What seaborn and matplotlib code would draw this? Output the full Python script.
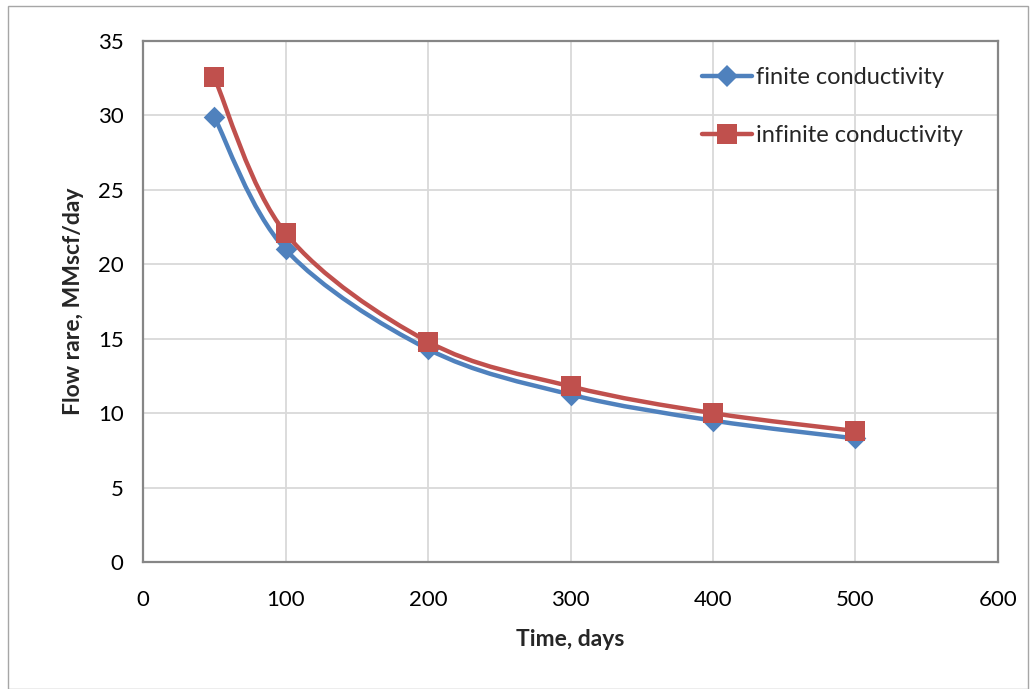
import numpy as np
import pandas as pd
import matplotlib
matplotlib.use("Agg")
import matplotlib.pyplot as plt
import seaborn as sns
from matplotlib.path import Path
from matplotlib.patches import PathPatch, Rectangle
from matplotlib.lines import Line2D

time_days = [50, 100, 200, 300, 400, 500]
finite_conductivity = [29.9, 21.0, 14.3, 11.25, 9.5, 8.3]
infinite_conductivity = [32.55, 22.1, 14.8, 11.8, 10.0, 8.8]
series_names = ["finite conductivity", "infinite conductivity"]
x_ticks = [0, 100, 200, 300, 400, 500, 600]
y_ticks = [0, 5, 10, 15, 20, 25, 30, 35]

df = pd.DataFrame({
    "time": time_days * 2,
    "rate": finite_conductivity + infinite_conductivity,
    "series": [series_names[0]] * len(time_days) + [series_names[1]] * len(time_days),
})

sns.set_theme(style="white")
plt.rcParams["font.family"] = ["Lato", "DejaVu Sans"]

BLUE = "#4F81BD"
RED = "#C0504D"

fig = plt.figure(figsize=(10.30, 6.89), dpi=100)
ax = fig.add_axes([143 / 1030, 1 - 562 / 689, (998 - 143) / 1030, (562 - 41) / 689])

def smooth_path(xs, ys):
    pts = np.column_stack([xs, ys]).astype(float)
    n = len(pts)
    verts = [pts[0]]
    codes = [Path.MOVETO]
    for i in range(n - 1):
        p0 = pts[i - 1] if i > 0 else pts[i]
        p1 = pts[i]
        p2 = pts[i + 1]
        p3 = pts[i + 2] if i + 2 < n else pts[i + 1]
        c1 = p1 + (p2 - p0) / 6.0
        c2 = p2 - (p3 - p1) / 6.0
        verts += [c1, c2, p2]
        codes += [Path.CURVE4] * 3
    return Path(verts, codes)

styles = {
    series_names[0]: dict(color=BLUE, marker="D", ms=11),
    series_names[1]: dict(color=RED, marker="s", ms=14),
}

z = 3
for name in series_names:
    sub = df[df["series"] == name]
    st = styles[name]
    patch = PathPatch(smooth_path(sub["time"].values, sub["rate"].values),
                      facecolor="none", edgecolor=st["color"], lw=3.2,
                      capstyle="round", joinstyle="round", zorder=z)
    ax.add_patch(patch)
    sns.scatterplot(x=sub["time"], y=sub["rate"], ax=ax, marker=st["marker"],
                    s=st["ms"] ** 2, color=st["color"], edgecolor=st["color"],
                    linewidth=0, zorder=z + 0.5, legend=False)
    z += 1

ax.set_xlim(0, 600)
ax.set_ylim(0, 35)
ax.set_xticks(x_ticks)
ax.set_yticks(y_ticks)
ax.grid(True, color="#D9D9D9", lw=1.3)
ax.set_axisbelow(True)
for s in ["left", "bottom", "right", "top"]:
    ax.spines[s].set_color("#868686")
    ax.spines[s].set_linewidth(1.6)
ax.tick_params(axis="x", length=0, labelsize=16, colors="black", pad=20)
ax.tick_params(axis="y", length=0, labelsize=16, colors="black", pad=14)

ax.set_xlabel("Time, days", fontsize=16.5, fontweight="bold", labelpad=14)
ax.set_ylabel("Flow rare, MMscf/day", fontsize=16.5, fontweight="bold", labelpad=10)

handles = [Line2D([], [], color=BLUE, lw=3.2, marker="D", ms=11, markeredgewidth=0),
           Line2D([], [], color=RED, lw=3.2, marker="s", ms=14, markeredgewidth=0)]
leg = ax.legend(handles, series_names, loc="upper left",
                bbox_to_anchor=((693 - 143) / 855, 1 - (58 - 41) / 521),
                frameon=False, fontsize=17, handlelength=2.1, handletextpad=0.15,
                labelspacing=1.55, borderaxespad=0)

fig.patches.append(Rectangle((8 / 1030, 0), 1 - 10 / 1030, 1 - 6 / 689,
                             transform=fig.transFigure, fill=False,
                             edgecolor="#A6A6A6", lw=1.0))

fig.savefig("out.png", dpi=100)
